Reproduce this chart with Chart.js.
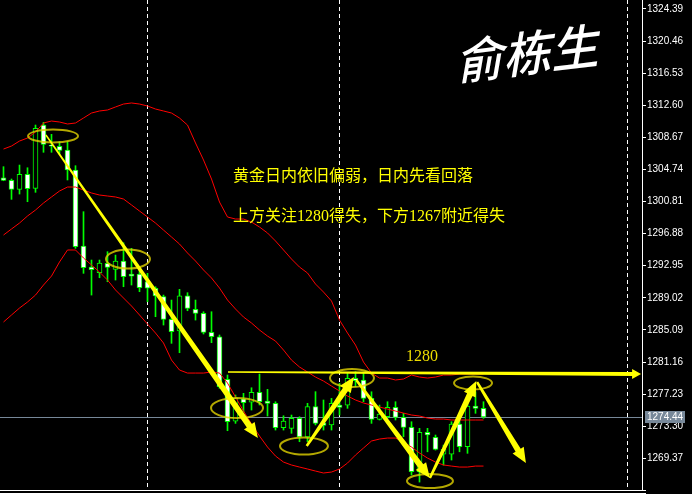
<!DOCTYPE html>
<html>
<head>
<meta charset="utf-8">
<script src="https://cdn.jsdelivr.net/npm/chart.js@4.4.0/dist/chart.umd.min.js"></script>
<style>
  html, body { margin: 0; padding: 0; background: #000; }
  canvas { display: block; }
</style>
</head>
<body>
<canvas id="chart" width="692" height="494"></canvas>
<script>
// H1 gold candles (index 0 = leftmost bar)
const opens = [1303.73,1303.41,1302.31,1304.15,1302.43,1310.18,1307.70,1307.57,1307.12,1304.67,
  1295.36,1292.79,1292.09,1293.24,1292.51,1293.53,1291.94,1291.94,1291.00,1290.19,
  1289.16,1286.39,1284.96,1289.28,1287.61,1287.12,1284.80,1284.26,1279.04,1273.93,
  1276.66,1276.23,1277.45,1276.38,1276.10,1273.12,1273.04,1274.27,1271.99,1275.69,
  1273.73,1273.45,1275.89,1275.89,1279.16,1278.96,1276.71,1274.14,1274.46,1275.61,
  1274.39,1273.16,1267.72,1272.55,1271.94,1269.89,1269.89,1273.57,1270.79,1275.77,
  1275.49];
const highs = [1305.08,1303.57,1305.28,1304.95,1310.18,1310.51,1309.04,1308.14,1308.14,1305.20,
  1299.57,1293.65,1293.65,1294.67,1294.26,1295.77,1295.08,1292.42,1292.02,1290.38,
  1289.36,1288.75,1290.06,1289.65,1288.75,1287.32,1287.32,1284.47,1279.57,1277.12,
  1277.33,1278.01,1279.69,1277.82,1276.30,1274.58,1274.67,1274.46,1276.10,1277.53,
  1276.51,1276.71,1278.55,1279.77,1279.97,1279.77,1277.52,1275.89,1276.30,1276.30,
  1274.88,1273.85,1273.04,1273.04,1272.22,1270.99,1273.85,1274.06,1276.30,1277.52,
  1276.30];
const lows = [1303.36,1301.08,1301.73,1300.79,1301.94,1306.84,1306.84,1306.59,1303.45,1295.08,
  1292.02,1289.36,1291.48,1290.99,1291.20,1290.38,1290.59,1289.77,1288.54,1286.71,
  1285.69,1283.45,1282.30,1287.44,1286.30,1284.59,1283.53,1277.94,1272.75,1273.65,
  1275.08,1275.28,1275.90,1274.55,1272.83,1272.83,1272.43,1271.40,1271.40,1273.45,
  1272.83,1272.83,1274.67,1275.49,1278.14,1276.30,1273.65,1274.06,1274.27,1274.06,
  1272.01,1267.32,1266.46,1270.17,1270.38,1268.54,1269.16,1270.17,1269.98,1274.88,
  1274.27];
const closes = [1303.41,1302.31,1304.15,1302.38,1309.78,1307.82,1307.60,1307.08,1304.67,1295.28,
  1292.71,1292.46,1293.28,1292.75,1293.53,1291.61,1291.66,1290.26,1290.19,1289.24,
  1286.39,1284.87,1289.28,1287.73,1287.12,1284.80,1284.26,1278.14,1273.85,1276.71,
  1276.17,1277.45,1276.30,1276.10,1273.12,1273.93,1274.27,1271.99,1275.69,1273.65,
  1273.40,1276.10,1275.61,1279.16,1278.87,1276.71,1274.14,1274.79,1275.61,1274.39,
  1273.16,1267.72,1272.55,1272.22,1270.47,1270.47,1273.57,1270.79,1275.77,1275.49,
  1274.44];

// Bollinger bands
const bandUpper = [1307.24,1307.61,1308.22,1308.59,1309.33,1310.43,1310.67,1310.55,1310.31,1310.43,
  1311.04,1311.65,1311.90,1312.02,1312.39,1312.75,1312.88,1312.75,1312.51,1312.14,
  1311.90,1311.65,1311.04,1310.18,1307.98,1305.90,1303.57,1300.75,1298.92,1298.67,
  1298.67,1298.30,1297.69,1296.96,1295.98,1294.88,1293.77,1292.79,1292.06,1290.71,
  1289.73,1288.63,1286.30,1284.71,1283.24,1281.16,1279.81,1279.20,1279.20,1278.96,
  1279.08,1279.57,1279.32,1279.20,1279.32,1279.57,1279.57,1279.69,1279.69,1279.69,
  1279.69];
const bandMiddle = [1296.71,1297.45,1298.18,1299.04,1299.77,1300.63,1301.37,1302.10,1302.59,1302.59,
  1302.22,1301.86,1301.61,1301.49,1301.37,1301.12,1300.39,1299.65,1298.92,1298.18,
  1297.32,1296.47,1295.61,1294.51,1293.53,1292.43,1291.45,1290.22,1288.75,1287.65,
  1286.67,1285.94,1285.08,1284.34,1283.73,1282.63,1281.40,1280.55,1279.94,1279.32,
  1278.83,1278.22,1277.61,1277.00,1276.51,1276.14,1275.89,1275.65,1275.40,1275.16,
  1274.91,1274.67,1274.55,1274.30,1274.18,1274.18,1274.06,1274.06,1274.06,1274.06,
  1274.06];
const bandLower = [1286.06,1286.92,1287.77,1288.51,1289.36,1290.59,1291.69,1293.41,1294.88,1294.88,
  1293.90,1293.04,1292.18,1291.20,1289.98,1289.00,1288.02,1286.92,1285.81,1284.71,
  1283.49,1281.40,1280.18,1279.81,1279.81,1279.81,1279.94,1279.81,1278.59,1276.87,
  1275.16,1273.57,1272.10,1270.75,1269.65,1268.91,1268.55,1268.30,1268.06,1267.81,
  1267.57,1267.69,1268.06,1268.79,1269.77,1270.63,1271.49,1271.73,1271.85,1271.85,
  1271.36,1270.75,1270.02,1269.40,1268.91,1268.55,1268.42,1268.30,1268.30,1268.42,
  1268.42];

// price axis labels
const priceTicks = [1324.39,1320.46,1316.53,1312.60,1308.67,1304.74,1300.81,1296.88,
  1292.95,1289.02,1285.09,1281.16,1277.23,1273.30,1269.37];
const bidPrice = 1274.44;
const daySeparators = [18, 42, 78];

// annotations: [barIndex, price]
const levelLine = [[28.06, 1279.93], [79.7, 1279.69]];
const trendArrows = [
  [[5.3, 1308.96], [31.8, 1271.85]],
  [[37.9, 1270.87], [43.8, 1279.32]],
  [[44.1, 1278.96], [53.3, 1266.95]],
  [[53.3, 1266.95], [59.1, 1278.83]],
  [[59.2, 1278.71], [65.3, 1268.79]]
];
const circles = [
  [6.19, 1308.84, 25, 6.5], [15.56, 1293.77, 22, 9.5], [29.19, 1275.53, 26, 10],
  [37.56, 1270.87, 24, 8.5], [43.56, 1279.20, 22, 9], [53.31, 1266.59, 23, 7],
  [58.69, 1278.59, 19, 6.5]
];
const noteLines = ['黄金日内依旧偏弱，日内先看回落', '上方关注1280得失，下方1267附近得失'];
const levelLabel = '1280';
const signature = '俞栋生';

const idx = opens.map((_, i) => i);
const GREEN = '#00ff00';

function arrow(ctx, x1, y1, x2, y2, w1, w2, headLen, headW) {
    const dx = x2 - x1, dy = y2 - y1;
    const len = Math.hypot(dx, dy);
    const ux = dx / len, uy = dy / len, nx = -uy, ny = ux;
    const bx = x2 - ux * headLen, by = y2 - uy * headLen;
    ctx.beginPath();
    ctx.moveTo(x1 + nx * w1 / 2, y1 + ny * w1 / 2);
    ctx.lineTo(bx + nx * w2 / 2, by + ny * w2 / 2);
    ctx.lineTo(bx + nx * headW, by + ny * headW);
    ctx.lineTo(x2, y2);
    ctx.lineTo(bx - nx * headW, by - ny * headW);
    ctx.lineTo(bx - nx * w2 / 2, by - ny * w2 / 2);
    ctx.lineTo(x1 - nx * w1 / 2, y1 - ny * w1 / 2);
    ctx.closePath();
    ctx.fill();
}

const chartDecor = {
    id: 'chartDecor',
    beforeDatasetsDraw(chart) {
        const ctx = chart.ctx, a = chart.chartArea;
        const xs = chart.scales.x, ys = chart.scales.y;
        ctx.save();
        // day separators
        ctx.strokeStyle = '#ffffff';
        ctx.lineWidth = 1;
        ctx.setLineDash([4, 3]);
        daySeparators.forEach(d => {
            const x = Math.floor(xs.getPixelForValue(d)) + 0.5;
            ctx.beginPath();
            ctx.moveTo(x, a.top);
            ctx.lineTo(x, a.bottom);
            ctx.stroke();
        });
        ctx.setLineDash([]);
        // bid line
        const yb = Math.round(ys.getPixelForValue(bidPrice)) + 0.5;
        ctx.strokeStyle = '#778899';
        ctx.beginPath();
        ctx.moveTo(a.left, yb);
        ctx.lineTo(a.right, yb);
        ctx.stroke();
        ctx.restore();
    },
    afterDatasetsDraw(chart) {
        const ctx = chart.ctx, a = chart.chartArea;
        const xs = chart.scales.x, ys = chart.scales.y;
        const px = p => [xs.getPixelForValue(p[0]), ys.getPixelForValue(p[1])];
        ctx.save();
        ctx.beginPath();
        ctx.rect(a.left, a.top, a.right - a.left + 2, a.bottom - a.top);
        ctx.clip();

        // ellipses
        ctx.strokeStyle = 'rgba(225, 210, 0, 0.8)';
        ctx.lineWidth = 2;
        circles.forEach(c => {
            ctx.beginPath();
            ctx.ellipse(xs.getPixelForValue(c[0]), ys.getPixelForValue(c[1]), c[2], c[3], 0, 0, Math.PI * 2);
            ctx.stroke();
        });

        ctx.fillStyle = '#ffff00';
        // 1280 level with arrow
        const l0 = px(levelLine[0]), l1 = px(levelLine[1]);
        arrow(ctx, l0[0], l0[1], l1[0], l1[1], 1.5, 4, 9, 5);
        // trend arrows
        trendArrows.forEach((t, k) => {
            const p0 = px(t[0]), p1 = px(t[1]);
            arrow(ctx, p0[0], p0[1], p1[0], p1[1], k === 0 ? 1.5 : 2.5, 6, 15, 6.5);
        });

        // texts
        ctx.textBaseline = 'middle';
        ctx.textAlign = 'left';
        ctx.font = "16px 'Liberation Serif', 'Noto Sans CJK SC'";
        ctx.fillText(noteLines[0], 233, 177);
        ctx.fillText(noteLines[1], 233, 216.5);
        ctx.fillStyle = '#eedd00';
        ctx.font = "16px 'Liberation Serif'";
        ctx.fillText(levelLabel, 406, 357);

        // signature
        ctx.fillStyle = '#ffffff';
        ctx.translate(456, 82);
        ctx.rotate(-0.12);
        ctx.transform(1, 0, -0.3, 1, 0, 0);
        ctx.font = "500 48px 'Noto Sans CJK SC'";
        ctx.fillText(signature, 0, -20);
        ctx.restore();
    },
    afterDraw(chart) {
        const ctx = chart.ctx, a = chart.chartArea;
        const ys = chart.scales.y;
        ctx.save();
        // bottom border
        ctx.strokeStyle = '#ffffff';
        ctx.lineWidth = 1;
        ctx.beginPath();
        ctx.moveTo(0, a.bottom + 0.5);
        ctx.lineTo(a.right + 4, a.bottom + 0.5);
        ctx.moveTo(0, a.bottom + 3.5);
        ctx.lineTo(a.right + 4, a.bottom + 3.5);
        ctx.stroke();
        // bid label
        const yb = Math.round(ys.getPixelForValue(bidPrice));
        ctx.fillStyle = '#778899';
        ctx.fillRect(a.right + 3, yb - 6, 40, 12);
        ctx.fillStyle = '#ffffff';
        ctx.font = "10px 'Liberation Sans'";
        ctx.textBaseline = 'middle';
        ctx.fillText(bidPrice.toFixed(2), a.right + 5, yb + 0.5);
        ctx.restore();
    }
};

new Chart(document.getElementById('chart').getContext('2d'), {
    type: 'bar',
    data: {
        datasets: [
            {
                type: 'line',
                data: idx.map(i => ({ x: i, y: bandUpper[i] })),
                borderColor: '#ff0000', borderWidth: 1, pointRadius: 0, tension: 0, order: -1
            },
            {
                type: 'line',
                data: idx.map(i => ({ x: i, y: bandMiddle[i] })),
                borderColor: '#ff0000', borderWidth: 1, pointRadius: 0, tension: 0, order: -1
            },
            {
                type: 'line',
                data: idx.map(i => ({ x: i, y: bandLower[i] })),
                borderColor: '#ff0000', borderWidth: 1, pointRadius: 0, tension: 0, order: -1
            },
            {
                // candle bodies
                data: idx.map(i => ({ x: i, y: [opens[i], closes[i]] })),
                backgroundColor: idx.map(i => closes[i] >= opens[i] ? '#000000' : '#ffffff'),
                borderColor: GREEN,
                borderWidth: 1,
                borderSkipped: false,
                barThickness: 5,
                grouped: false,
                order: 0
            },
            {
                // wicks
                data: idx.map(i => ({ x: i, y: [lows[i], highs[i]] })),
                backgroundColor: GREEN,
                borderWidth: 0,
                barThickness: 1,
                grouped: false,
                order: 1
            }
        ]
    },
    options: {
        responsive: false,
        animation: false,
        layout: { padding: { left: 0, right: 0, top: 0, bottom: 4 } },
        plugins: { legend: { display: false }, tooltip: { enabled: false } },
        scales: {
            x: {
                type: 'linear',
                display: false,
                offset: false,
                min: -0.4375,
                max: 79.8125
            },
            y: {
                position: 'right',
                min: 1265.49,
                max: 1325.49,
                afterBuildTicks: s => { s.ticks = priceTicks.map(v => ({ value: v })); },
                afterFit: s => { s.width = 50; s.paddingTop = 0; s.paddingBottom = 0; },
                border: { display: true, color: '#ffffff', width: 1 },
                grid: { drawOnChartArea: false, color: '#ffffff', tickLength: 4 },
                ticks: {
                    color: '#ffffff',
                    padding: 1,
                    font: { family: "'Liberation Sans', Arial, sans-serif", size: 10 },
                    callback: v => v.toFixed(2)
                }
            }
        }
    },
    plugins: [chartDecor]
});
</script>
</body>
</html>
